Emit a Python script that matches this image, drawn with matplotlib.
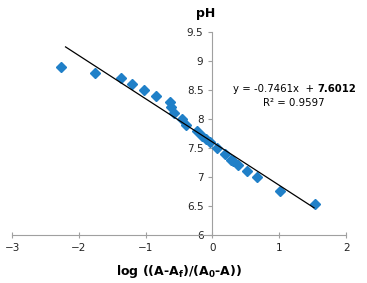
import numpy as np
import matplotlib.pyplot as plt

# points
log_ratio = [-2.27, -1.76, -1.37, -1.20, -1.02, -0.85, -0.63, -0.62, -0.57,
             -0.45, -0.39, -0.23, -0.16, -0.09, -0.04, 0.07, 0.18, 0.27,
             0.30, 0.38, 0.51, 0.66, 1.01, 1.54]
ph = [8.9, 8.8, 8.7, 8.6, 8.5, 8.4, 8.3, 8.2, 8.1,
      8.0, 7.9, 7.8, 7.7, 7.65, 7.6, 7.5, 7.4, 7.3,
      7.28, 7.2, 7.1, 7.0, 6.75, 6.53]
slope = -0.7461
intercept = 7.6012
fit_range = [-2.2, 1.52]

fig = plt.figure(figsize=(3.67, 2.83), dpi=100)
ax = fig.add_axes([0.033, 0.170, 0.910, 0.717])

ax.plot(log_ratio, ph, linestyle="none", marker="D", markersize=5,
        color="#2080C8", zorder=3)
xs = np.array(fit_range)
ax.plot(xs, slope * xs + intercept, color="black", linewidth=0.9, zorder=4)

ax.set_xlim(-3, 2)
ax.set_ylim(6, 9.5)
ax.set_xticks([-3, -2, -1, 0, 1, 2])
ax.set_yticks([6, 6.5, 7, 7.5, 8, 8.5, 9, 9.5])
ax.set_yticklabels(["6", "6.5", "7", "7.5", "8", "8.5", "9", "9.5"])

ax.spines["left"].set_position(("data", 0))
ax.spines["top"].set_visible(False)
ax.spines["right"].set_visible(False)
for s in ["left", "bottom"]:
    ax.spines[s].set_color("#a0a0a0")
    ax.spines[s].set_linewidth(0.8)
ax.tick_params(axis="both", colors="#a0a0a0", labelcolor="#222222",
               labelsize=7.5, length=3, width=0.8)
ax.tick_params(axis="x", direction="inout", length=5, pad=3)

ax.text(0.578, 1.09, "pH", transform=ax.transAxes, ha="center", va="center",
        fontsize=9, fontweight="bold")
ax.text(0.5, -0.178, "log ((A-A$_\\mathregular{f}$)/(A$_\\mathregular{0}$-A))",
        transform=ax.transAxes, ha="center", va="center",
        fontsize=9, fontweight="bold")

t1 = ax.text(0.31, 8.52, "y = -0.7461x  + ", ha="left", va="center",
             fontsize=7.3)
ax.annotate("7.6012", xy=(1, 0), xycoords=t1, ha="left", va="bottom",
            fontsize=7.3, fontweight="bold")
ax.text(0.76, 8.28, "R² = 0.9597", ha="left", va="center", fontsize=7.3)

fig.savefig("out.png", dpi=100)
